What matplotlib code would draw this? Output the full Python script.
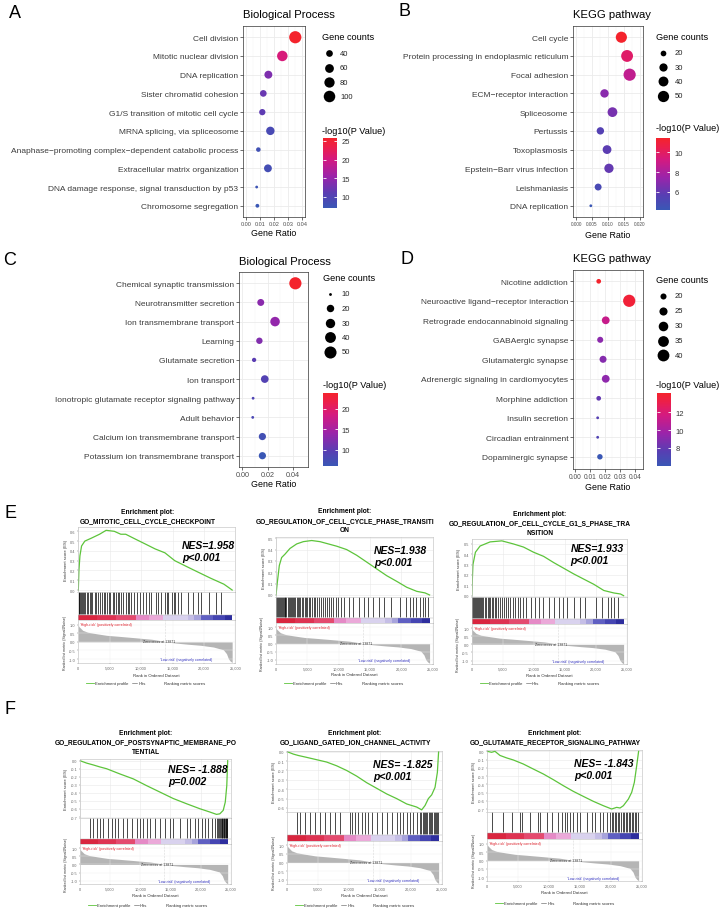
import numpy as np
import matplotlib
matplotlib.use("Agg")
import matplotlib.pyplot as plt
from matplotlib.colors import LinearSegmentedColormap, Normalize
from matplotlib.cm import ScalarMappable

plt.rcParams['font.family'] = ['Liberation Sans', 'DejaVu Sans']

# ---------------- dot plots (A-D) ----------------
a_terms = ["Cell division", "Mitotic nuclear division", "DNA replication",
           "Sister chromatid cohesion", "G1/S transition of mitotic cell cycle",
           "MRNA splicing, via spliceosome",
           "Anaphase\u2212promoting complex\u2212dependent catabolic process",
           "Extracellular matrix organization",
           "DNA damage response, signal transduction by p53",
           "Chromosome segregation"]
a_ratio = [0.0351, 0.0259, 0.0160, 0.0124, 0.0117, 0.0174, 0.0089, 0.0157, 0.0077, 0.0082]
a_count = [112, 83, 51, 40, 37, 56, 28, 50, 25, 26]
a_logp = [25.7, 20.5, 13.5, 12.0, 11.3, 9.0, 8.0, 8.4, 7.5, 7.0]
a_breaks = [40, 60, 80, 100]
a_cticks = [10, 15, 20, 25]

b_terms = ["Cell cycle", "Protein processing in endoplasmic reticulum", "Focal adhesion",
           "ECM\u2212receptor interaction", "Spliceosome", "Pertussis", "Toxoplasmosis",
           "Epstein\u2212Barr virus infection", "Leishmaniasis", "DNA replication"]
b_ratio = [0.0142, 0.0160, 0.0168, 0.0089, 0.0114, 0.0076, 0.0097, 0.0103, 0.0069, 0.0046]
b_count = [49, 55, 58, 31, 39, 26, 33, 36, 24, 16]
b_logp = [11.4, 9.8, 8.6, 7.0, 6.5, 5.5, 5.8, 6.0, 5.0, 4.2]
b_breaks = [20, 30, 40, 50]
b_cticks = [6, 8, 10]

c_terms = ["Chemical synaptic transmission", "Neurotransmitter secretion",
           "Ion transmembrane transport", "Learning", "Glutamate secretion", "Ion transport",
           "Ionotropic glutamate receptor signaling pathway", "Adult behavior",
           "Calcium ion transmembrane transport", "Potassium ion transmembrane transport"]
c_ratio = [0.0422, 0.0146, 0.0260, 0.0135, 0.0093, 0.0178, 0.0085, 0.0082, 0.0159, 0.0159]
c_count = [51, 18, 31, 16, 11, 21, 10, 10, 19, 19]
c_logp = [23.9, 13.0, 13.5, 12.3, 9.8, 9.0, 8.6, 8.2, 7.0, 5.9]
c_breaks = [10, 20, 30, 40, 50]
c_cticks = [10, 15, 20]

d_terms = ["Nicotine addiction", "Neuroactive ligand\u2212receptor interaction",
           "Retrograde endocannabinoid signaling", "GABAergic synapse", "Glutamatergic synapse",
           "Adrenergic signaling in cardiomyocytes", "Morphine addiction", "Insulin secretion",
           "Circadian entrainment", "Dopaminergic synapse"]
d_ratio = [0.0158, 0.0362, 0.0205, 0.0168, 0.0187, 0.0205, 0.0158, 0.0151, 0.0151, 0.0166]
d_count = [18, 42, 24, 20, 22, 24, 18, 17, 17, 19]
d_logp = [14.2, 13.8, 11.2, 9.2, 9.0, 9.3, 8.0, 7.5, 7.2, 5.9]
d_breaks = [20, 25, 30, 35, 40]
d_cticks = [8, 10, 12]

# ---------------- GSEA (E, F) ----------------
# ranked list metric (same ranked dataset for all six plots)
rank_pos = [0, 150, 700, 1500, 2900, 4500, 6500, 9000, 11700, 12900, 13871, 15500,
            17500, 19500, 21500, 23100, 23600, 23900, 24200, 24500]
rank_val = [0.95, 0.87, 0.67, 0.56, 0.47, 0.38, 0.32, 0.24, 0.15, 0.08, 0.0, -0.07,
            -0.14, -0.2, -0.3, -0.46, -0.69, -0.98, -1.12, -1.2]
bar_edges = [0, 3000, 6000, 9200, 11200, 13500, 17400, 18500, 19500, 21500, 23300, 24500]
bar_colors = ['#D9263F', '#DE3352', '#E44A6E', '#E58AC6', '#EBA9D9', '#D9D2EE',
              '#C5BEE6', '#A7A3DC', '#5F5FC2', '#4545B2', '#2E2E9E']

e1_x = [0, 100, 260, 520, 1040, 2080, 3380, 4430, 5730, 6770, 7550, 9100, 10680, 12240,
        13800, 15360, 16930, 19000, 21100, 23180, 23850, 24500]
e1_y = [0, 0.2, 0.35, 0.45, 0.50, 0.53, 0.57, 0.61, 0.60, 0.57, 0.57, 0.52, 0.47, 0.42,
        0.38, 0.30, 0.25, 0.185, 0.12, 0.06, 0.03, 0.0]
e1_hits = [40, 160, 260, 370, 530, 680, 890, 1100, 1310, 1570, 1830, 2040, 2250, 2610, 2870,
           3180, 3500, 3760, 4070, 4330, 4540, 4850, 5060, 5470, 5680, 6000, 6310, 6520,
           6830, 7140, 7560, 7870, 8080, 8390, 8910, 9380, 9750, 10270, 10790, 11200, 11620,
           12350, 12770, 13180, 13810, 14120, 14330, 14850, 15270, 15470, 15890, 16410,
           17450, 18230, 19020, 19540, 20840, 21880, 22660]

e2_x = [0, 210, 530, 900, 1440, 2230, 3300, 4360, 5690, 7020, 8350, 9680, 11280, 12870,
        14470, 16060, 17660, 19260, 20850, 22450, 23780, 24500]
e2_y = [0, 0.11, 0.26, 0.33, 0.36, 0.41, 0.45, 0.47, 0.48, 0.47, 0.45, 0.43, 0.40, 0.35,
        0.29, 0.23, 0.17, 0.12, 0.068, 0.032, 0.018, 0.0]
e2_hits = [60, 200, 330, 450, 600, 720, 900, 1050, 1200, 1380, 1500, 1650, 1850, 2000, 2200,
           2350, 2500, 2700, 2900, 3050, 3300, 3450, 3650, 3900, 4100, 4300, 4550, 4800,
           5000, 5300, 5500, 5800, 6100, 6300, 6600, 6900, 7200, 7500, 7800, 8100, 8400,
           8800, 9100, 9500, 9900, 10300, 10900, 11600, 12300, 13300, 14000, 14600, 15500,
           16500, 17300, 18400, 19800, 20700, 21300, 21800, 22400, 22900, 23400, 23800, 24200]

e3_x = [0, 200, 600, 1350, 2970, 4860, 6740, 8360, 9980, 11600, 13220, 14840, 16460, 18070,
        19690, 21310, 22930, 24000, 24500]
e3_y = [0, 0.3, 0.42, 0.48, 0.52, 0.53, 0.50, 0.47, 0.42, 0.38, 0.32, 0.265, 0.21, 0.16,
        0.11, 0.05, 0.026, 0.016, 0.0]
e3_hits = [50, 180, 320, 480, 620, 800, 950, 1150, 1300, 1500, 1700, 1900, 2100, 2300, 2550,
           2750, 3000, 3200, 3500, 3700, 4000, 4300, 4600, 4900, 5200, 5500, 5900, 6200,
           6600, 7000, 7400, 7800, 8300, 8700, 9500, 10200, 10800, 11500, 12400, 13300,
           14100, 14700, 15400, 16500, 17500, 18300, 20000, 21000, 22000, 22500, 23000, 23600]

f1_x = [0, 1100, 2210, 3315, 4420, 6630, 8840, 11050, 13260, 15470, 17680, 19890, 21550,
        22650, 23200, 23760, 24100, 24350, 24500]
f1_y = [0, -0.03, -0.053, -0.078, -0.10, -0.165, -0.226, -0.31, -0.39, -0.47, -0.535,
        -0.597, -0.638, -0.667, -0.66, -0.617, -0.514, -0.31, 0.0]
f1_hits = [1660, 2210, 2760, 3320, 3870, 4700, 5250, 5800, 6350, 7180, 7740, 8560, 9390,
           9950, 10500, 11050, 11600, 12430, 13260, 14090, 14920, 15470, 16580, 17680,
           18230, 19060, 19610, 20170, 20720, 21270, 21820, 22380, 22700, 22900, 23050,
           23200, 23350, 23500, 23620, 23750, 23850, 23950, 24050, 24150, 24250, 24350, 24450]

f2_x = [0, 970, 1780, 3130, 4750, 6370, 7990, 9610, 11230, 12850, 14470, 16090, 17710,
        19330, 20950, 21760, 22300, 22840, 23380, 23920, 24300, 24500]
f2_y = [0, -0.025, -0.04, -0.06, -0.085, -0.11, -0.15, -0.20, -0.26, -0.33, -0.39, -0.45,
        -0.50, -0.557, -0.59, -0.62, -0.574, -0.50, -0.46, -0.38, -0.22, 0.0]
f2_hits = [1510, 2050, 2860, 3670, 4480, 5290, 6100, 6910, 7720, 8530, 10150, 10500, 10960,
           11500, 12040, 12580, 13120, 13660, 14470, 15280, 16090, 16900, 17710, 18250,
           18790, 19330, 19870, 20410, 20950, 21500, 21700, 21900, 22100, 22300, 22500,
           22700, 22900, 23100, 23300, 23500, 23700, 23900, 24100, 24300, 24450]

f3_x = [0, 700, 1240, 2050, 3130, 4210, 5830, 7450, 9070, 10690, 12310, 13930, 15550, 17170,
        18790, 20140, 20950, 21490, 22030, 22840, 23380, 23810, 24190, 24500]
f3_y = [0, -0.012, 0.0, -0.05, -0.08, -0.105, -0.154, -0.215, -0.275, -0.344, -0.417,
        -0.486, -0.547, -0.607, -0.66, -0.70, -0.68, -0.688, -0.66, -0.58, -0.498, -0.377,
        -0.174, 0.0]
f3_hits = [700, 2590, 3940, 5290, 5560, 6910, 8260, 8530, 9610, 10420, 11500, 12040, 12580,
           12960, 13390, 13930, 14470, 15010, 16090, 16900, 17440, 18250, 18790, 19330,
           19870, 20150, 20400, 20650, 20900, 21150, 21400, 21650, 21900, 22150, 22400,
           22650, 22900, 23150, 23400, 23650, 23900, 24150, 24400]

W, H = 720, 912
fig = plt.figure(figsize=(W / 100, H / 100), dpi=100)
fig.patch.set_facecolor('white')

ov = fig.add_axes([0, 0, 1, 1])
ov.set_xlim(0, W)
ov.set_ylim(H, 0)
ov.axis('off')
ov.set_zorder(10)


def box(l, t, r, b):
    return fig.add_axes([l / W, 1 - b / H, (r - l) / W, (b - t) / H])


def T(x, y, s, **kw):
    kw.setdefault('va', 'center')
    return fig.text(x / W, 1 - y / H, s, **kw)


CMAP = LinearSegmentedColormap.from_list(
    'pv', [(0, '#3A57B5'), (0.2, '#573FB3'), (0.45, '#9A24AA'),
           (0.7, '#D41A80'), (0.88, '#EC1F4A'), (1, '#F4232C')])


def dot_area(c, cmin, cmax):
    t = np.clip((np.asarray(c, float) - cmin) / (cmax - cmin), 0, 1)
    d = 2.8 + 9.4 * np.sqrt(t)
    return (d * 0.72) ** 2


def dotplot(title, terms, ratio, count, logp, breaks, cticks, lay):
    l, t, r, b = lay['box']
    ax = box(l, t, r, b)
    n = len(terms)
    ypos = np.arange(n)[::-1]
    cmin, cmax = min(count), max(count)
    norm = Normalize(min(logp), max(logp))
    ax.scatter(ratio, ypos, s=dot_area(count, cmin, cmax), c=logp, cmap=CMAP, norm=norm,
               linewidths=0, zorder=3)
    ax.set_ylim(-0.6, n - 0.4)
    ax.set_xlim(*lay['xlim'])
    ax.set_yticks(ypos)
    ax.set_yticklabels(terms)
    xt = lay['xticks']
    ax.set_xticks(xt)
    ax.set_xticklabels([lay['fmt'].format(v) for v in xt])
    ax.set_xticks([(xt[i] + xt[i + 1]) / 2 for i in range(len(xt) - 1)], minor=True)
    ax.set_axisbelow(True)
    ax.grid(which='major', color='#EBEBEB', lw=0.6)
    ax.grid(which='minor', axis='x', color='#F4F4F4', lw=0.35)
    ax.tick_params(which='major', length=2, width=0.5, color='#333333', pad=1.5)
    ax.tick_params(which='minor', length=0)
    ax.tick_params(axis='y', labelsize=6.0, labelcolor='#3C3C3C')
    ax.tick_params(axis='x', labelsize=lay['xfs'], labelcolor='#4D4D4D', pad=1)
    for sp in ax.spines.values():
        sp.set_color('#333333')
        sp.set_linewidth(0.5)
    T(l, lay['ty'], title, fontsize=8.1, ha='left')
    T((l + r) / 2, lay['xly'], "Gene Ratio", fontsize=6.4, ha='center')
    gx, gy = lay['gt']
    T(gx, gy, "Gene counts", fontsize=6.6, ha='left')
    for bk, yy in zip(breaks, lay['gys']):
        ov.scatter([lay['gdx']], [yy], s=dot_area([bk], cmin, cmax), color='black',
                   linewidths=0)
        T(lay['glx'], yy, str(bk), fontsize=5.5, ha='left', color='#222222')
    cx, cy = lay['ct']
    T(cx, cy, "-log10(P Value)", fontsize=6.6, ha='left')
    cl, ct, cr, cb_ = lay['cbox']
    cax = box(cl, ct, cr, cb_)
    cb = fig.colorbar(ScalarMappable(norm=norm, cmap=CMAP), cax=cax)
    cb.outline.set_visible(False)
    cb.set_ticks(cticks)
    cax.tick_params(axis='y', direction='in', left=True, right=True, color='white',
                    length=2.5, width=0.6, labelsize=5.5, labelcolor='#333333', pad=3)


dotplot("Biological Process", a_terms, a_ratio, a_count, a_logp, a_breaks, a_cticks,
        dict(box=(243, 27, 305, 218), xlim=(-0.002, 0.042),
             xticks=[0, 0.01, 0.02, 0.03, 0.04], fmt="{:.2f}", xfs=4.0, ty=15.3, xly=233.5,
             gt=(322, 38), gdx=328.5, glx=340, gys=[54.3, 69, 83.3, 97.3],
             ct=(322, 131), cbox=(323, 139.3, 337, 209)))
dotplot("KEGG pathway", b_terms, b_ratio, b_count, b_logp, b_breaks, b_cticks,
        dict(box=(573, 27, 643, 218), xlim=(-0.001, 0.021),
             xticks=[0, 0.005, 0.01, 0.015, 0.02], fmt="{:.3f}", xfs=3.4, ty=14.7, xly=235,
             gt=(656, 38), gdx=663.3, glx=675, gys=[53.7, 68, 82.3, 96.7],
             ct=(656, 128.3), cbox=(656, 139.3, 670, 210.7)))
dotplot("Biological Process", c_terms, c_ratio, c_count, c_logp, c_breaks, c_cticks,
        dict(box=(239.3, 272.8, 308.3, 468.2), xlim=(-0.0025, 0.0525),
             xticks=[0, 0.02, 0.04], fmt="{:.2f}", xfs=5.2, ty=262.3, xly=485,
             gt=(323.3, 278.3), gdx=330, glx=341.7, gys=[295, 309.3, 324, 338.3, 352.7],
             ct=(322.7, 385), cbox=(323, 394, 337.5, 467.3)))
dotplot("KEGG pathway", d_terms, d_ratio, d_count, d_logp, d_breaks, d_cticks,
        dict(box=(573, 270.6, 642.5, 469.5), xlim=(-0.0014, 0.0451),
             xticks=[0, 0.01, 0.02, 0.03, 0.04], fmt="{:.2f}", xfs=4.8, ty=259.3, xly=488,
             gt=(655.7, 280.7), gdx=662.7, glx=675, gys=[297, 312, 326.7, 341.7, 356],
             ct=(655.7, 385), cbox=(656.5, 394, 671, 467.3)))

GREEN = '#5DC43B'


def gsea(title, cx, cy, hits, nes, lay):
    L, R = lay['lr']
    # enrichment score curve
    es = box(L, lay['es'][0], R, lay['es'][1])
    es.plot(cx, cy, color=GREEN, lw=0.9)
    es.set_xlim(0, 25000)
    es.set_ylim(*lay['eslim'])
    es.set_yticks(lay['esticks'])
    es.set_yticklabels(["{:.1f}".format(v) for v in lay['esticks']])
    es.set_xticks([0, 5000, 10000, 15000, 20000, 25000])
    es.tick_params(labelbottom=False, length=1, width=0.3, labelsize=2.8, pad=1,
                   colors='#666666')
    es.grid(color='#E8E8E8', lw=0.4)
    es.set_ylabel("Enrichment score (ES)", fontsize=3, labelpad=1.5, color='#333333')
    # hits + colour bar
    ht, hb = lay['hits']
    frac = (hb - lay['bar']) / (hb - ht)
    hx = box(L, ht, R, hb)
    hx.vlines(hits, frac + 0.02, 1, color='black', lw=0.5)
    hx.bar(bar_edges[:-1], frac, width=np.diff(bar_edges), bottom=0, align='edge',
           color=bar_colors, linewidth=0)
    hx.axhline(frac + 0.01, color='#AAAAAA', lw=0.3)
    hx.set_xlim(0, 25000)
    hx.set_ylim(0, 1)
    hx.set_xticks([])
    hx.set_yticks([])
    # ranked list metric
    rk = box(L, lay['rk'][0], R, lay['rk'][1])
    rk.fill_between(rank_pos, rank_val, 0, color='#B5B5B5', lw=0)
    rk.axvline(13871, color='#BBBBBB', lw=0.4, ls=':')
    rk.set_xlim(0, 25000)
    rk.set_ylim(*lay['rklim'])
    rk.set_yticks([-1.0, -0.5, 0.0, 0.5, 1.0])
    rk.set_yticklabels(["-1.0", "-0.5", "0.0", "0.5", "1.0"])
    rk.set_xticks([0, 5000, 10000, 15000, 20000, 25000])
    rk.set_xticklabels(["0", "5,000", "10,000", "15,000", "20,000", "25,000"])
    rk.tick_params(length=1, width=0.3, labelsize=2.8, pad=1, colors='#666666')
    rk.grid(color='#EEEEEE', lw=0.3)
    rk.set_ylabel("Ranked list metric (Signal2Noise)", fontsize=2.6, labelpad=1.5,
                  color='#333333')
    rk.text(300, lay['rklim'][1] - 0.12, "'High-risk' (positively correlated)",
            fontsize=2.6, color='#E0202A', va='top')
    rk.text(17200, -1.02, "'Low-risk' (negatively correlated)", fontsize=2.6,
            color='#3030C0', ha='center', va='center')
    rk.text(12800, 0.05, "Zero cross at 13871", fontsize=2.6, color='#333333',
            ha='center', va='center')
    for a in (es, hx, rk):
        for sp in a.spines.values():
            sp.set_color('#BBBBBB')
            sp.set_linewidth(0.4)
    tx = (L + R) / 2 - 9.5
    for i, line in enumerate(title):
        T(tx, lay['ty'] + i * 9.4, line, fontsize=4.8, weight='bold', ha='center')
    T((L + R) / 2, lay['xly'], "Rank in Ordered Dataset", fontsize=3.1, ha='center',
      color='#333333')
    nx, ny = lay['nes']
    T(nx, ny, nes[0], fontsize=7.5, weight='bold', style='italic', ha='left')
    T(nx, ny + 12, nes[1], fontsize=7.5, weight='bold', style='italic', ha='left')
    ly = lay['leg']
    ov.plot([L + 8, L + 16], [ly, ly], color=GREEN, lw=0.6)
    T(L + 17, ly, "Enrichment profile", fontsize=3.1, ha='left', color='#333333')
    ov.plot([L + 54, L + 59], [ly, ly], color='#555555', lw=0.4)
    T(L + 60, ly, "Hits", fontsize=3.1, ha='left', color='#333333')
    T(L + 86, ly, "Ranking metric scores", fontsize=3.1, ha='left', color='#333333')


gsea(["Enrichment plot:", "GO_MITOTIC_CELL_CYCLE_CHECKPOINT"], e1_x, e1_y, e1_hits,
     ["NES=1.958", "p<0.001"],
     dict(lr=(78.3, 235.3), ty=512.3, es=(528, 593), eslim=(-0.02, 0.644),
          esticks=[0, 0.1, 0.2, 0.3, 0.4, 0.5, 0.6], hits=(593, 621), bar=616,
          rk=(621, 664), rklim=(-1.23, 1.27), xly=675.7, nes=(182, 545.7), leg=684))
gsea(["Enrichment plot:", "GO_REGULATION_OF_CELL_CYCLE_PHASE_TRANSITI", "ON"],
     e2_x, e2_y, e2_hits, ["NES=1.938", "p<0.001"],
     dict(lr=(276, 432.7), ty=512, es=(538, 598), eslim=(-0.018, 0.511),
          esticks=[0, 0.1, 0.2, 0.3, 0.4, 0.5], hits=(598, 624), bar=619,
          rk=(624, 665), rklim=(-1.245, 1.263), xly=675, nes=(374, 550.7), leg=684))
gsea(["Enrichment plot:", "GO_REGULATION_OF_CELL_CYCLE_G1_S_PHASE_TRA", "NSITION"],
     e3_x, e3_y, e3_hits, ["NES=1.933", "p<0.001"],
     dict(lr=(471.7, 626.7), ty=514.3, es=(540, 598), eslim=(-0.013, 0.548),
          esticks=[0, 0.1, 0.2, 0.3, 0.4, 0.5], hits=(598, 625), bar=620,
          rk=(625, 665), rklim=(-1.21, 1.25), xly=676, nes=(570.7, 549), leg=684))
gsea(["Enrichment plot:", "GO_REGULATION_OF_POSTSYNAPTIC_MEMBRANE_PO", "TENTIAL"],
     f1_x, f1_y, f1_hits, ["NES= -1.888", "p=0.002"],
     dict(lr=(80, 230.7), ty=733.3, es=(760, 819), eslim=(-0.712, 0.021),
          esticks=[0, -0.1, -0.2, -0.3, -0.4, -0.5, -0.6, -0.7], hits=(819, 845), bar=840,
          rk=(845, 885), rklim=(-1.21, 1.27), xly=895.7, nes=(168.3, 770), leg=906))
gsea(["Enrichment plot:", "GO_LIGAND_GATED_ION_CHANNEL_ACTIVITY"],
     f2_x, f2_y, f2_hits, ["NES= -1.825", "p<0.001"],
     dict(lr=(287.3, 441.7), ty=733.3, es=(751.7, 813.3), eslim=(-0.646, 0.011),
          esticks=[0, -0.1, -0.2, -0.3, -0.4, -0.5, -0.6], hits=(813.3, 842), bar=836,
          rk=(842, 885), rklim=(-1.23, 1.23), xly=896, nes=(373.3, 765), leg=906))
gsea(["Enrichment plot:", "GO_GLUTAMATE_RECEPTOR_SIGNALING_PATHWAY"],
     f3_x, f3_y, f3_hits, ["NES= -1.843", "p<0.001"],
     dict(lr=(487.3, 641.7), ty=733.3, es=(751, 813.3), eslim=(-0.74, 0.016),
          esticks=[0, -0.1, -0.2, -0.3, -0.4, -0.5, -0.6, -0.7], hits=(813.3, 840), bar=834,
          rk=(840, 882), rklim=(-1.22, 1.30), xly=893.3, nes=(574, 764.3), leg=904.3))

# panel letters
for letter, x, y in [("A", 15, 13), ("B", 405, 12), ("C", 10, 261), ("D", 407, 259),
                     ("E", 10, 513), ("F", 10, 710)]:
    T(x, y, letter, fontsize=13, ha='center')

fig.savefig("out.png", dpi=100)
